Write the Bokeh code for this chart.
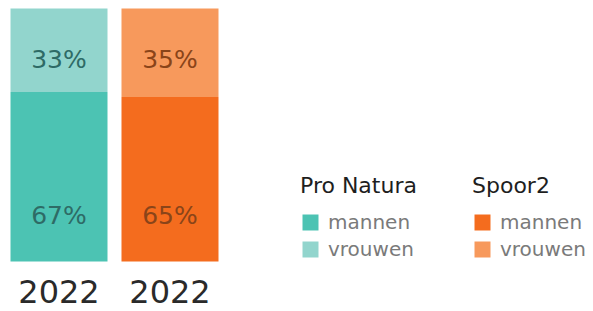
from bokeh.plotting import figure
from bokeh.models import ColumnDataSource, Range1d, Legend, LegendItem
from bokeh.core.properties import value
from bokeh.embed import file_html
from bokeh.resources import INLINE

# ---- data ----
orgs = ["Pro Natura", "Spoor2"]
years = ["2022", "2022"]
mannen = [67, 65]
vrouwen = [33, 35]
series_labels = ["mannen", "vrouwen"]

# ---- styles ----
col_m = ["#4cc3b3", "#f46c1e"]
col_v = ["#92d5cd", "#f7995c"]
txt_col = ["#2e6b66", "#8a4419"]
FONT_NAME = "DejaVu Sans"
FONT = value(FONT_NAME)

W, H = 593, 311
px_per_unit = 111.0
x0 = -58.5 / px_per_unit
bar_top_px, bar_bottom_px = 8.0, 261.0
bar_px = bar_bottom_px - bar_top_px
y_max = 100 + bar_top_px / bar_px * 100
y_min = -(H - bar_bottom_px) / bar_px * 100

p = figure(width=W, height=H, output_backend="svg", toolbar_location=None,
           x_range=Range1d(x0, x0 + W / px_per_unit), y_range=Range1d(y_min, y_max),
           min_border=0, min_border_left=0, min_border_right=0,
           min_border_top=0, min_border_bottom=0)
p.axis.visible = False
p.grid.visible = False
p.outline_line_color = None
p.background_fill_color = "white"
p.border_fill_color = "white"

xs = list(range(len(orgs)))
renderers = []
for i in xs:
    src = ColumnDataSource(dict(x=[i], m=[mannen[i]], top=[mannen[i] + vrouwen[i]]))
    rm = p.vbar(x="x", bottom=0, top="m", width=0.874, source=src,
                fill_color=col_m[i], line_color=None)
    rv = p.vbar(x="x", bottom="m", top="top", width=0.874, source=src,
                fill_color=col_v[i], line_color=None)
    renderers.append((rm, rv))

# percentage labels
lab_src = ColumnDataSource(dict(
    x=xs + xs,
    y=[18] * len(xs) + [80] * len(xs),
    text=[f"{v}%" for v in mannen] + [f"{v}%" for v in vrouwen],
    color=txt_col + txt_col,
))
p.text(x="x", y="y", text="text", source=lab_src, text_color="color",
       text_font=FONT, text_font_size="25px", text_align="center",
       text_baseline="middle")

# year labels under bars
yr_src = ColumnDataSource(dict(x=xs, y=[-12.0] * len(xs), text=years))
p.text(x="x", y="y", text="text", source=yr_src, text_color="#2a2a2a",
       text_font=FONT, text_font_size="32px", text_align="center",
       text_baseline="middle")

legend_x = [300, 472]
for i, org in enumerate(orgs):
    rm, rv = renderers[i]
    leg = Legend(items=[LegendItem(label=series_labels[0], renderers=[rm]),
                        LegendItem(label=series_labels[1], renderers=[rv])],
                 location=(legend_x[i], 50), title=org,
                 title_text_font=FONT_NAME, title_text_font_size="22px",
                 title_text_font_style="normal", title_text_color="#1e1e1e",
                 title_standoff=12,
                 label_text_font=FONT_NAME, label_text_font_size="20px",
                 label_text_color="#7a7a7a", label_standoff=8,
                 glyph_width=20, glyph_height=20, label_height=20,
                 spacing=3, padding=0, margin=0,
                 border_line_color=None, background_fill_alpha=0)
    p.add_layout(leg)

open("out.html", "w").write(file_html(p, INLINE))
